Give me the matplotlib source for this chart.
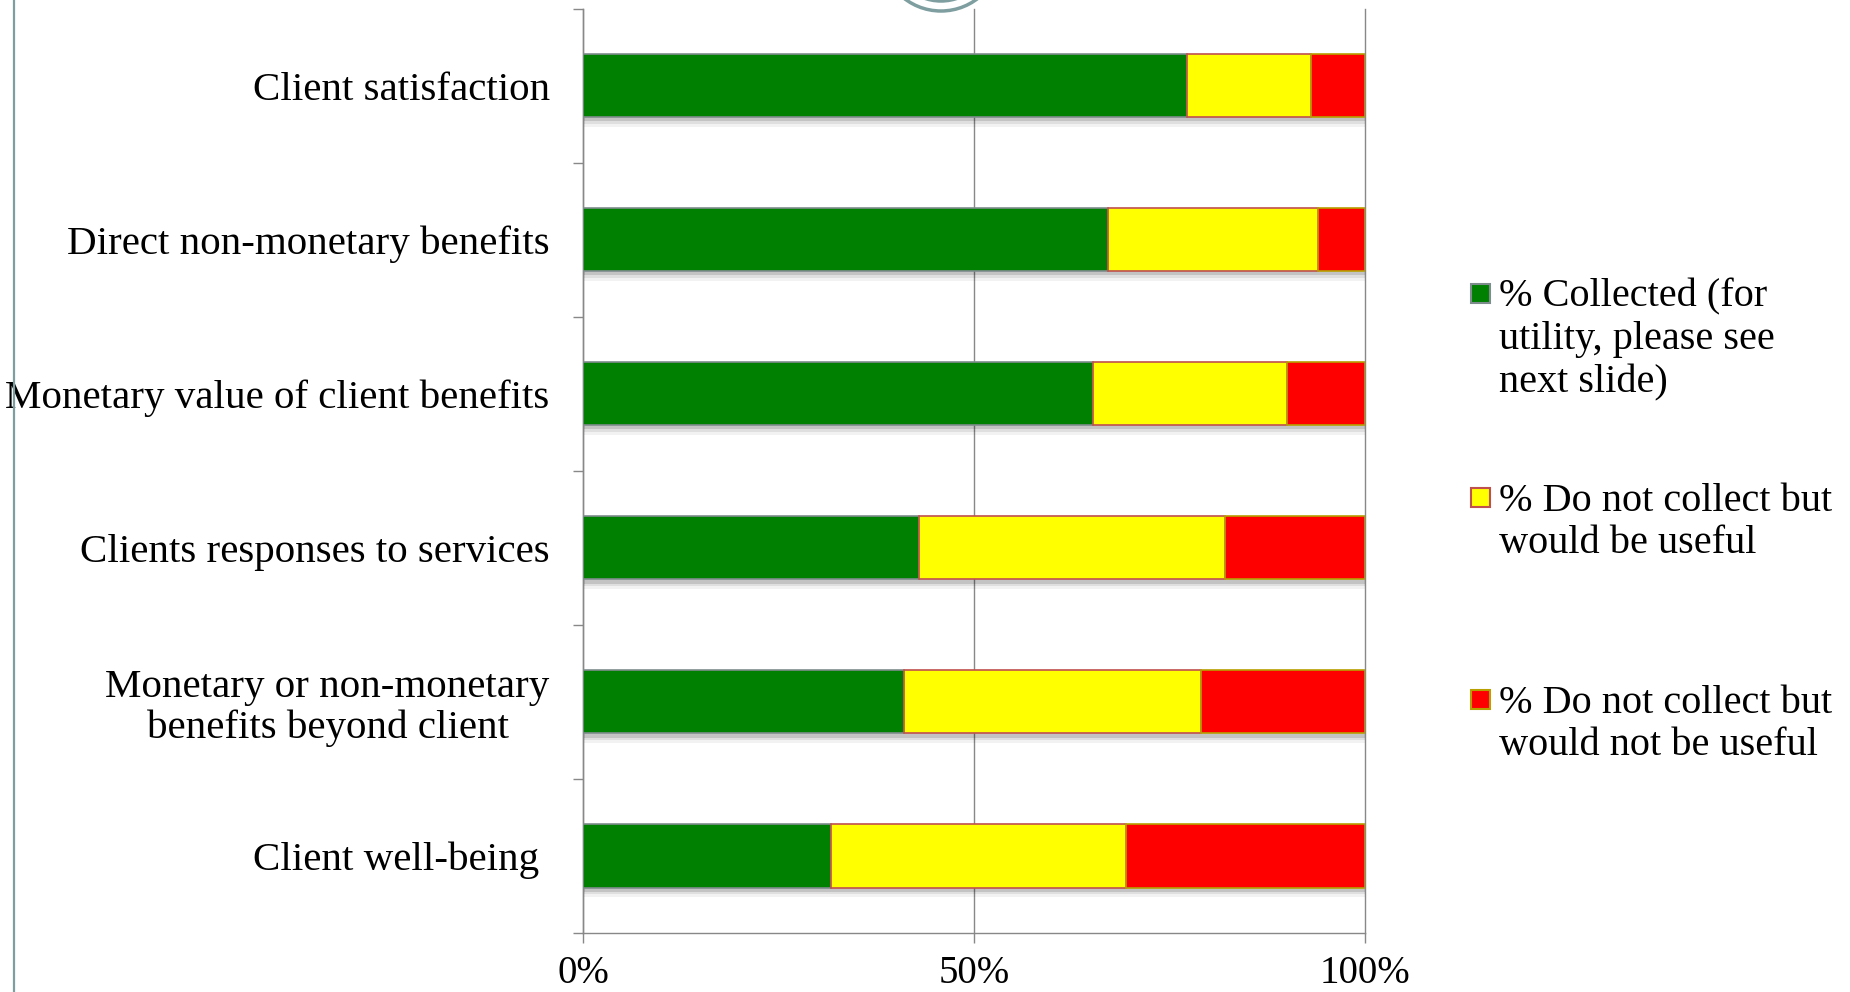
import numpy as np
import matplotlib
matplotlib.use("Agg")
import matplotlib.pyplot as plt
import matplotlib.patheffects as pe
from matplotlib.patches import Rectangle, Circle
from matplotlib.lines import Line2D

categories = [
    "Client satisfaction",
    "Direct non-monetary benefits",
    "Monetary value of client benefits",
    "Clients responses to services",
    "Monetary or non-monetary\nbenefits beyond client",
    "Client well-being ",
]
collected = [77.2, 67.1, 65.2, 43.0, 41.0, 31.7]
useful = [15.9, 26.9, 24.8, 39.1, 38.0, 37.7]
not_useful = [6.9, 6.0, 10.0, 17.9, 21.0, 30.6]
series_labels = [
    "% Collected (for\nutility, please see\nnext slide)",
    "% Do not collect but\nwould be useful",
    "% Do not collect but\nwould not be useful",
]
x_ticks = [0, 50, 100]
x_ticklabels = ["0%", "50%", "100%"]

face_colors = ["#008000", "#ffff00", "#ff0000"]
edge_colors = ["#7f8c8d", "#c0504d", "#b8a000"]
font = "Liberation Serif"

W, H = 1850, 992
fig = plt.figure(figsize=(W / 100, H / 100), dpi=100)
ax = fig.add_axes([583 / W, 1 - 933 / H, (1365 - 583) / W, (933 - 8.5) / H])

y = np.arange(len(categories))
# soft drop shadow built from a few stacked offsets
shadow = [
    pe.SimplePatchShadow(offset=(1, -7), shadow_rgbFace="k", alpha=0.05),
    pe.SimplePatchShadow(offset=(1, -5), shadow_rgbFace="k", alpha=0.08),
    pe.SimplePatchShadow(offset=(1, -3), shadow_rgbFace="k", alpha=0.12),
    pe.Normal(),
]
left = np.zeros(len(categories))
for vals, fc, ec in zip([collected, useful, not_useful], face_colors, edge_colors):
    bars = ax.barh(y, vals, left=left, height=0.41, color=fc, edgecolor=ec, linewidth=1.2, zorder=3)
    for b in bars:
        b.set_path_effects(shadow)
    left = left + np.array(vals)

ax.set_xlim(0, 100)
ax.set_ylim(len(categories) - 0.5, -0.5)

ax.set_yticks(y)
ax.set_yticklabels(categories, fontsize=29.5, family=font, multialignment="center", linespacing=1.1)
ax.set_yticks(np.arange(len(categories) + 1) - 0.5, minor=True)
ax.tick_params(axis="y", which="major", length=0, pad=24)
ax.tick_params(axis="y", which="minor", length=7, width=1.0, color="#888888", direction="out")

ax.set_xticks(x_ticks)
ax.set_xticklabels(x_ticklabels, fontsize=28, family=font)
ax.tick_params(axis="x", which="major", length=7, width=1.0, color="#888888", direction="out", pad=9)

for s in ["top", "right"]:
    ax.spines[s].set_visible(False)
for s in ["left", "bottom"]:
    ax.spines[s].set_color("#888888")
    ax.spines[s].set_linewidth(1.0)

ax.xaxis.grid(True, color="#888888", linewidth=1.0)
ax.set_axisbelow(True)
for gl in ax.get_xgridlines():
    gl.set_clip_on(False)

# legend: swatch next to the first line of each label
legend_rows = [292.6, 496.7, 698.6]
for lab, fc, ec, yc in zip(series_labels, face_colors, edge_colors, legend_rows):
    fig.add_artist(Rectangle((1471 / W, 1 - (yc + 10) / H), 19 / W, 19 / H,
                             transform=fig.transFigure, facecolor=fc, edgecolor=ec, linewidth=1.5))
    fig.text(1499 / W, 1 - (yc - 14) / H, lab, fontsize=29, family=font, va="top", ha="left",
             linespacing=1.2)

# slide decorations
fig.add_artist(Line2D([14 / W, 14 / W], [0, 1], transform=fig.transFigure, color="#7f9ea0", lw=1.6))
for r in [0.60, 0.50]:
    fig.add_artist(Circle((9.41, 10.41), r, transform=fig.dpi_scale_trans, fill=False,
                          edgecolor="#7f9ea0", lw=2.5))

fig.savefig("out.png", dpi=100)
